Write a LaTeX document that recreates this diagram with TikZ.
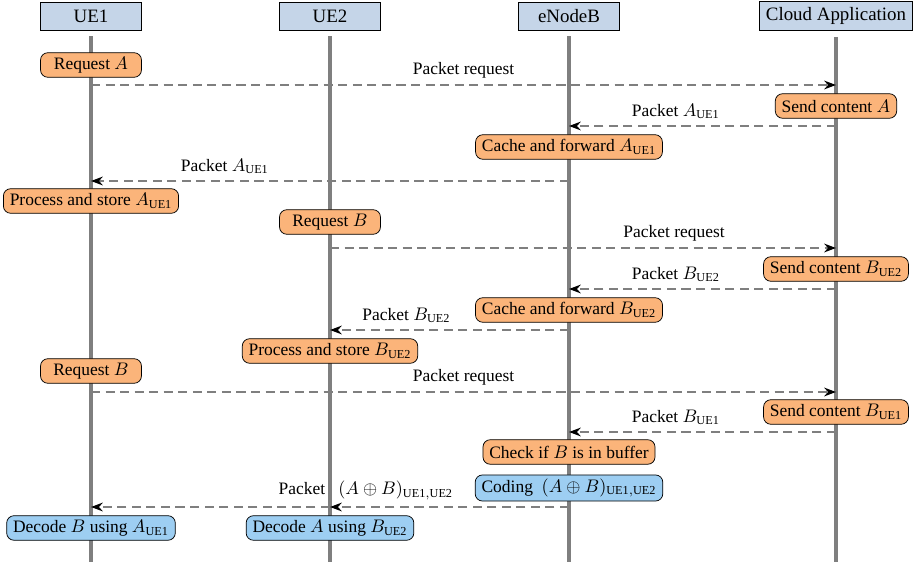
\documentclass[tikz,border=0pt]{standalone}
\usepackage{fontspec}
\setmainfont{Liberation Serif}
\setmathrm{Liberation Serif}
\usetikzlibrary{arrows.meta}

\definecolor{headblue}{HTML}{C5D5E8}
\definecolor{actorange}{HTML}{FBB47A}
\definecolor{actblue}{HTML}{9DCEF2}
\definecolor{linegray}{HTML}{7F7F7F}

\begin{document}
\begin{tikzpicture}[x=0.55pt, y=-0.55pt, font=\fontsize{9.6}{11.5}\selectfont,
	head/.style={draw, thin, fill=headblue, minimum width=55.5pt, minimum height=15.4pt, inner xsep=3.5pt, font=\fontsize{10.4}{12}\selectfont},
	act/.style={draw, thin, fill=actorange, rounded corners=4pt, minimum width=55.5pt, minimum height=13.5pt, inner xsep=3.5pt, inner ysep=2pt},
	code/.style={act, fill=actblue},
	life/.style={line width=1.7pt, linegray},
	msg/.style={line width=1pt, linegray, dash pattern=on 5pt off 3pt, -{Stealth[black, length=6.5pt, width=4.8pt]}}]
		
		\useasboundingbox (0,0) rectangle (913,568);
		
		% Participants
		\node[head] (ue1) at (91,16) {UE1};
		\node[head] (ue2) at (330,16) {UE2};
		\node[head] (enb) at (569,16) {eNodeB};
		\node[head] (cloud) at (836,16) {Cloud Application};
		
		% Lifelines
		\coordinate (bottom) at (0,562);
		\draw[life] ([yshift=-3.3pt]ue1.south) -- (ue1 |- bottom);
		\draw[life] ([yshift=-3.3pt]ue2.south) -- (ue2 |- bottom);
		\draw[life] ([yshift=-3.3pt]enb.south) -- (enb |- bottom);
		\draw[life] ([yshift=-3.3pt]cloud.south) -- (cloud |- bottom);
		
		% Message rows
		\coordinate (m1) at (0,85);
		\coordinate (m2) at (0,126);
		\coordinate (m3) at (0,181);
		\coordinate (m4) at (0,248);
		\coordinate (m5) at (0,289);
		\coordinate (m6) at (0,330);
		\coordinate (m7) at (0,392);
		\coordinate (m8) at (0,432);
		\coordinate (m9) at (0,507);
		
		% Content A
		\node[act] (reqA) at (ue1 |- 0,65) {Request $A$};
		\node[act] (sendA) at (cloud |- 0,106) {Send content $A$};
		\node[act] (cacheA) at (enb |- 0,147) {Cache and forward $A_{\mathrm{UE1}}$};
		\node[act] (procA) at (ue1 |- 0,201) {Process and store $A_{\mathrm{UE1}}$};
		
		% Content B for UE2
		\node[act] (reqB2) at (ue2 |- 0,222) {Request $B$};
		\node[act] (sendB2) at (cloud |- 0,269) {Send content $B_{\mathrm{UE2}}$};
		\node[act] (cacheB) at (enb |- 0,310) {Cache and forward $B_{\mathrm{UE2}}$};
		\node[act] (procB) at (ue2 |- 0,351) {Process and store $B_{\mathrm{UE2}}$};
		
		% Content B for UE1
		\node[act] (reqB1) at (ue1 |- 0,371) {Request $B$};
		\node[act] (sendB1) at (cloud |- 0,412) {Send content $B_{\mathrm{UE1}}$};
		\node[act] (check) at (enb |- 0,452) {Check if $B$ is in buffer};
		\node[code] (coding) at (enb |- 0,488) {Coding\ \ $(A\oplus B)_{\mathrm{UE1,UE2}}$};
		\node[code] (decB) at (ue1 |- 0,528) {Decode $B$ using $A_{\mathrm{UE1}}$};
		\node[code] (decA) at (ue2 |- 0,528) {Decode $A$ using $B_{\mathrm{UE2}}$};
		
		% Messages
		\draw[msg] (ue1 |- m1) -- (cloud |- m1) node[pos=0.5, above, black] {Packet request};
		\draw[msg] (cloud |- m2) -- (enb |- m2) node[pos=0.6, above, black] {Packet $A_{\mathrm{UE1}}$};
		\draw[msg] (enb |- m3) -- (ue1 |- m3) node[pos=0.72, above, black] {Packet $A_{\mathrm{UE1}}$};
		\draw[msg] (ue2 |- m4) -- (cloud |- m4) node[pos=0.68, above, black] {Packet request};
		\draw[msg] (cloud |- m5) -- (enb |- m5) node[pos=0.6, above, black] {Packet $B_{\mathrm{UE2}}$};
		\draw[msg] (enb |- m6) -- (ue2 |- m6) node[pos=0.68, above, black] {Packet $B_{\mathrm{UE2}}$};
		\draw[msg] (ue1 |- m7) -- (cloud |- m7) node[pos=0.5, above, black] {Packet request};
		\draw[msg] (cloud |- m8) -- (enb |- m8) node[pos=0.6, above, black] {Packet $B_{\mathrm{UE1}}$};
		\draw[msg] (enb |- m9) -- (ue2 |- m9) node[pos=0.85, above, black] {Packet\ \ \ $(A\oplus B)_{\mathrm{UE1,UE2}}$};
		\draw[msg] (ue2 |- m9) -- (ue1 |- m9);
	\end{tikzpicture}
\end{document}
